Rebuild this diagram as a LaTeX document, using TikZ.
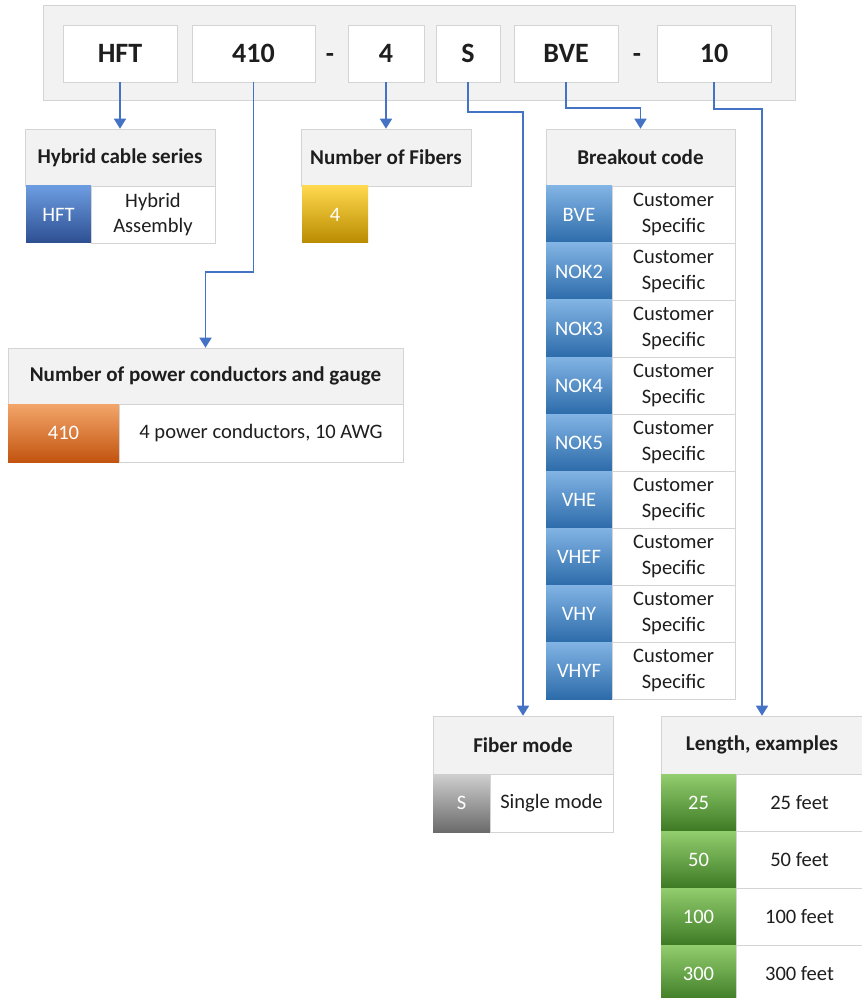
\documentclass[tikz,border=0pt]{standalone}
\usepackage{fontspec}
\setmainfont{Carlito}
\usetikzlibrary{arrows.meta}

\definecolor{linkblue}{HTML}{4472C4}
\definecolor{edgegray}{HTML}{D4D4D4}
\definecolor{headgray}{HTML}{F2F2F2}
\definecolor{inkgray}{HTML}{1E1E1E}

\tikzset{
  sz/.style 2 args={minimum width=#1*0.75pt, minimum height=#2*0.75pt},
  frame/.style={draw=edgegray, fill=headgray, inner sep=0pt},
  codebox/.style={draw=edgegray, fill=white, inner sep=0pt, text=inkgray,
    font=\fontsize{21}{25}\selectfont\bfseries},
  hyphen/.style={text=inkgray, anchor=base, inner sep=0pt,
    font=\fontsize{20}{24}\selectfont\bfseries},
  head/.style={draw=edgegray, fill=headgray, inner sep=0pt, text=inkgray,
    font=\fontsize{15.8}{19}\selectfont\bfseries},
  txtcell/.style={draw=edgegray, fill=white, inner sep=0pt, align=center,
    text=inkgray, font=\fontsize{15.4}{19}\selectfont},
  colcell/.style 2 args={top color=#1, bottom color=#2, inner sep=0pt,
    text=white, font=\fontsize{15.4}{19}\selectfont},
  hftcell/.style={colcell={HFTtop}{HFTbot}},
  brkcell/.style={colcell={BRKtop}{BRKbot}},
  fibcell/.style={colcell={FIBtop}{FIBbot}},
  pwrcell/.style={colcell={PWRtop}{PWRbot}},
  modecell/.style={colcell={MODtop}{MODbot}},
  lencell/.style={colcell={LENtop}{LENbot}},
  link/.style={draw=linkblue, line width=1.1pt,
    -{Triangle[width=9pt,length=7.5pt]}}
}
\definecolor{HFTtop}{HTML}{6C9CE0}
\definecolor{HFTbot}{HTML}{2D4F92}
\definecolor{BRKtop}{HTML}{82B4E4}
\definecolor{BRKbot}{HTML}{2C6BAA}
\definecolor{FIBtop}{HTML}{FFD84D}
\definecolor{FIBbot}{HTML}{B98B00}
\definecolor{PWRtop}{HTML}{F3A56A}
\definecolor{PWRbot}{HTML}{C2540F}
\definecolor{MODtop}{HTML}{CFCFCF}
\definecolor{MODbot}{HTML}{6B6B6B}
\definecolor{LENtop}{HTML}{92CE6E}
\definecolor{LENbot}{HTML}{3E7A24}

\begin{document}
\begin{tikzpicture}[x=0.75pt, y=-0.75pt]
  \useasboundingbox (0,0) rectangle (861,998);

  % part number bar
  \node[frame, sz={752}{95}] (bar) at (419,52.5) {};
  \node[codebox, sz={114}{57}] (cHFT) at (120,53.5) {HFT};
  \node[codebox, sz={123}{57}] (c410) at (253.5,53.5) {410};
  \node[hyphen] (d1) at (330,62.5) {-};
  \node[codebox, sz={76}{57}] (c4) at (386,53.5) {4};
  \node[codebox, sz={64}{57}] (cS) at (468,53.5) {S};
  \node[codebox, sz={104}{57}] (cBVE) at (566,53.5) {BVE};
  \node[hyphen] (d2) at (637,62.5) {-};
  \node[codebox, sz={114}{57}] (c10) at (714,53.5) {10};

  % hybrid cable series
  \node[head, sz={190}{57}] (hyb) at (120,157.5) {Hybrid cable series};
  \node[hftcell, sz={65}{57}] (hybA) at (58.5,214.5) {HFT};
  \node[txtcell, sz={124}{57}] (hybB) at (153,214.5) {Hybrid\\Assembly};

  % number of fibers
  \node[head, sz={170}{57}] (fib) at (386,157.5) {Number of Fibers};
  \node[fibcell, sz={66}{57}] (fibA) at (335,214.5) {4};

  % power conductors
  \node[head, sz={395}{56}] (pwr) at (205.5,376) {Number of power conductors and gauge};
  \node[pwrcell, sz={111}{58}] (pwrA) at (63.5,433) {410};
  \node[txtcell, sz={284}{58}] (pwrB) at (261,433) {4 power conductors, 10 AWG};

  % breakout code
  \node[head, sz={189}{57}] (brk) at (640.5,157.5) {Breakout code};
  \node[brkcell, sz={66}{57}] (brk1) at (579,214.5) {BVE};
  \node[txtcell, sz={123}{57}] (brk1t) at (673.5,214.5) {Customer\\Specific};
  \node[brkcell, sz={66}{57}] (brk2) at (579,271.5) {NOK2};
  \node[txtcell, sz={123}{57}] (brk2t) at (673.5,271.5) {Customer\\Specific};
  \node[brkcell, sz={66}{57}] (brk3) at (579,328.5) {NOK3};
  \node[txtcell, sz={123}{57}] (brk3t) at (673.5,328.5) {Customer\\Specific};
  \node[brkcell, sz={66}{57}] (brk4) at (579,385.5) {NOK4};
  \node[txtcell, sz={123}{57}] (brk4t) at (673.5,385.5) {Customer\\Specific};
  \node[brkcell, sz={66}{57}] (brk5) at (579,442.5) {NOK5};
  \node[txtcell, sz={123}{57}] (brk5t) at (673.5,442.5) {Customer\\Specific};
  \node[brkcell, sz={66}{57}] (brk6) at (579,499.5) {VHE};
  \node[txtcell, sz={123}{57}] (brk6t) at (673.5,499.5) {Customer\\Specific};
  \node[brkcell, sz={66}{57}] (brk7) at (579,556.5) {VHEF};
  \node[txtcell, sz={123}{57}] (brk7t) at (673.5,556.5) {Customer\\Specific};
  \node[brkcell, sz={66}{57}] (brk8) at (579,613.5) {VHY};
  \node[txtcell, sz={123}{57}] (brk8t) at (673.5,613.5) {Customer\\Specific};
  \node[brkcell, sz={66}{57}] (brk9) at (579,670.5) {VHYF};
  \node[txtcell, sz={123}{57}] (brk9t) at (673.5,670.5) {Customer\\Specific};

  % fiber mode
  \node[head, sz={180}{58}] (mode) at (523,745) {Fiber mode};
  \node[modecell, sz={57}{58}] (modeA) at (461.5,803) {S};
  \node[txtcell, sz={123}{58}] (modeB) at (551.5,803) {Single mode};

  % length
  \node[head, sz={202}{58}] (len) at (762,745) {Length, examples};
  \node[lencell, sz={75}{57}] (len1) at (698.5,802.5) {25};
  \node[txtcell, sz={127}{57}] (len1t) at (799.5,802.5) {25 feet};
  \node[lencell, sz={75}{57}] (len2) at (698.5,859.5) {50};
  \node[txtcell, sz={127}{57}] (len2t) at (799.5,859.5) {50 feet};
  \node[lencell, sz={75}{57}] (len3) at (698.5,916.5) {100};
  \node[txtcell, sz={127}{57}] (len3t) at (799.5,916.5) {100 feet};
  \node[lencell, sz={75}{57}] (len4) at (698.5,973.5) {300};
  \node[txtcell, sz={127}{57}] (len4t) at (799.5,973.5) {300 feet};

  % connectors
  \coordinate (j410) at (253.5,272);
  \coordinate (jS) at (468,112);
  \coordinate (jBVE) at (566,108);
  \coordinate (j10) at (714,109);
  \draw[link] (cHFT.south) -- (hyb.north);
  \draw[link] (c410.south) -- (j410) -| (pwr.north);
  \draw[link] (c4.south) -- (fib.north);
  \draw[link] (cS.south) -- (jS) -| (mode.north);
  \draw[link] (cBVE.south) -- (jBVE) -| (brk.north);
  \draw[link] (c10.south) -- (j10) -| (len.north);
\end{tikzpicture}
\end{document}
